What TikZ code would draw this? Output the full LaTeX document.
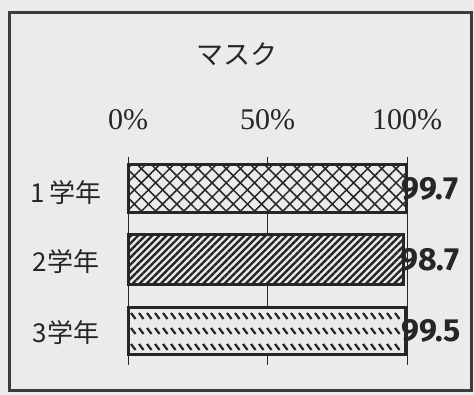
\documentclass[tikz,border=0pt]{standalone}
\usepackage{fontspec}
\setmainfont{Liberation Serif}
\newfontfamily\jpfont{Noto Sans CJK JP}
\newfontfamily\numfont{Fira Sans}
\usetikzlibrary{patterns.meta}
\definecolor{ink}{gray}{0.15}
\definecolor{paper}{gray}{0.92}

\begin{document}
\begin{tikzpicture}[x=1pt,y=1pt,
    lbl/.style={font=\jpfont\fontsize{26}{26}\selectfont,text=ink},
    ax/.style={font=\fontsize{30}{30}\selectfont,text=ink},
    val/.style={font=\numfont\bfseries\fontsize{32}{32}\selectfont,text=ink,anchor=west,inner sep=0pt},
    bar/.style={draw=ink,line width=3pt}]
     \def\xz{128}
     \def\xw{279}
     \fill[paper] (0,0) rectangle (474,395);
     \useasboundingbox (0,0) rectangle (474,395);
     \draw[ink!90,line width=3pt] (9,4) rectangle (471,382);
     \node[lbl,font=\jpfont\fontsize{27}{27}\selectfont] (title) at (237,341) {マスク};
     % scale and grid lines
     \foreach \p/\s in {0/0\%,50/50\%,100/100\%} {
      \draw[ink,line width=0.9pt] ({\xz+\p/100*\xw},30) -- ({\xz+\p/100*\xw},238);
      \node[ax] (ax\p) at ({\xz+\p/100*\xw},275) {\s};
     }
     % 1st year
     \fill[paper] (\xz,182) rectangle ({\xz+\xw*0.997},230);
     \fill[pattern={Hatch[angle=45,distance=10pt,line width=1.5pt]},pattern color=ink]
        (\xz,182) rectangle ({\xz+\xw*0.997},230);
     \draw[bar] (\xz,182) rectangle ({\xz+\xw*0.997},230);
     % 2nd year
     \fill[paper] (\xz,110) rectangle ({\xz+\xw*0.987},160);
     \fill[pattern={Lines[angle=45,distance=5pt,line width=2.4pt]},pattern color=ink]
        (\xz,110) rectangle ({\xz+\xw*0.987},160);
     \draw[bar] (\xz,110) rectangle ({\xz+\xw*0.987},160);
     % 3rd year
     \fill[paper] (\xz,40) rectangle ({\xz+\xw*0.995},87);
     \foreach \y in {79,64,48} {
      \foreach \x in {131,139,...,400} {
       \draw[ink,line width=2.2pt] (\x,\y+3) -- (\x+4.5,\y-3);
      }
     }
     \draw[bar] (\xz,40) rectangle ({\xz+\xw*0.995},87);
     % labels
     \node[lbl] (r1) at (66,202) {1\,学年};
     \node[lbl] (r2) at (66,133) {2学年};
     \node[lbl] (r3) at (66,62)  {3学年};
     \node[val] (v1) at (401,206) {99.7};
     \node[val] (v2) at (400,135) {98.7};
     \node[val] (v3) at (401,64)  {99.5};
    \end{tikzpicture}
\end{document}
